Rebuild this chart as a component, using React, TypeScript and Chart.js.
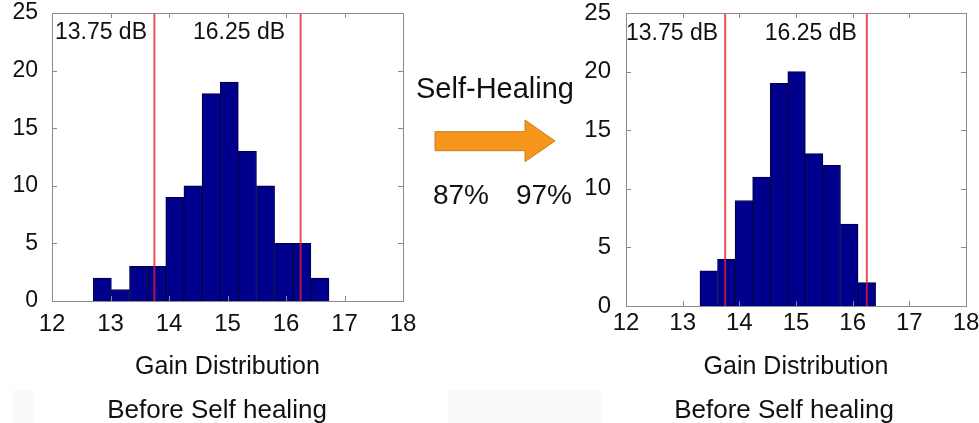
import { useEffect, useRef } from "react";
import { Chart, registerables } from "chart.js";

Chart.register(...registerables);

const FONT = '"Liberation Sans", Arial, Helvetica, sans-serif';

// Gain histogram before self-healing: bin centres (dB) and unit counts
const beforeBins = [12.86, 13.17, 13.48, 13.79, 14.1, 14.41, 14.72, 15.03, 15.34, 15.65, 15.96, 16.27, 16.58];
const beforeCounts = [2, 1, 3, 3, 9, 10, 18, 19, 13, 10, 5, 5, 2];

// Gain histogram after self-healing
const afterBins = [13.46, 13.77, 14.08, 14.39, 14.7, 15.01, 15.32, 15.63, 15.94, 16.25];
const afterCounts = [3, 4, 9, 11, 19, 20, 13, 12, 7, 2];

// Gain specification window (dB)
const specLimits = [13.75, 16.25];
const specLabels = ["13.75 dB", "16.25 dB"];

// Axis ticks
const xTicks = [12, 13, 14, 15, 16, 17, 18];
const yTicks = [0, 5, 10, 15, 20, 25];

// Yield inside the window
const yieldBefore = "87%";
const yieldAfter = "97%";

type Layout = {
  yAxisWidth: number;
  xAxisHeight: number;
  padTop: number;
  padRight: number;
  xTickPad: number;
  yTickPad: number;
  yTickSize: number;
  labelAnchors: { x: number; y: number }[];
};

const X_MIN = xTicks[0];
const X_MAX = xTicks[xTicks.length - 1];
const Y_MIN = yTicks[0];
const Y_MAX = yTicks[yTicks.length - 1];

// Box frame, inward tick marks and the spec-limit captions
const framePlugin = {
  id: "frame",
  afterDatasetsDraw(chart: any, _args: any, opts: any) {
    const { ctx, chartArea: a, scales } = chart;
    const x = scales.x;
    const y = scales.y;
    ctx.save();
    ctx.strokeStyle = "#8a8a8a";
    ctx.lineWidth = 1;
    ctx.beginPath();
    for (const t of xTicks) {
      if (t === X_MIN || t === X_MAX) continue;
      const px = Math.round(x.getPixelForValue(t)) + 0.5;
      ctx.moveTo(px, a.bottom);
      ctx.lineTo(px, a.bottom - 5);
      ctx.moveTo(px, a.top);
      ctx.lineTo(px, a.top + 5);
    }
    for (const t of yTicks) {
      if (t === Y_MIN || t === Y_MAX) continue;
      const py = Math.round(y.getPixelForValue(t)) + 0.5;
      ctx.moveTo(a.left, py);
      ctx.lineTo(a.left + 5, py);
      ctx.moveTo(a.right, py);
      ctx.lineTo(a.right - 5, py);
    }
    ctx.stroke();
    ctx.strokeRect(
      Math.round(a.left) + 0.5,
      Math.round(a.top) + 0.5,
      Math.round(a.right - a.left),
      Math.round(a.bottom - a.top)
    );

    ctx.fillStyle = "#111";
    ctx.font = `23px ${FONT}`;
    ctx.textAlign = "left";
    ctx.textBaseline = "middle";
    (opts.anchors || []).forEach((p: { x: number; y: number }, i: number) => {
      ctx.fillText(specLabels[i], x.getPixelForValue(p.x), y.getPixelForValue(p.y));
    });
    ctx.restore();
  },
};

function buildConfig(bins: number[], counts: number[], L: Layout): any {
  const limitSets = specLimits.map((v) => ({
    type: "line",
    data: [
      { x: v, y: Y_MIN },
      { x: v, y: Y_MAX },
    ],
    borderColor: "rgba(226, 32, 44, 0.78)",
    borderWidth: 2,
    pointRadius: 0,
    fill: false,
    order: 0,
  }));

  return {
    type: "bar",
    data: {
      datasets: [
        {
          type: "bar",
          data: bins.map((b, i) => ({ x: b, y: counts[i] })),
          backgroundColor: "#00008c",
          borderColor: "#00003c",
          borderWidth: 1,
          barPercentage: 1,
          categoryPercentage: 1,
          order: 1,
        },
        ...limitSets,
      ],
    },
    options: {
      responsive: false,
      animation: false,
      devicePixelRatio: 1,
      layout: { padding: { left: 0, top: L.padTop, right: L.padRight, bottom: 0 } },
      plugins: {
        legend: { display: false },
        tooltip: { enabled: false },
        frame: { anchors: L.labelAnchors },
      },
      scales: {
        x: {
          type: "linear",
          min: X_MIN,
          max: X_MAX,
          offset: false,
          afterBuildTicks: (s: any) => {
            s.ticks = xTicks.map((v) => ({ value: v }));
          },
          afterFit: (s: any) => {
            s.height = L.xAxisHeight;
            s.paddingLeft = 0;
            s.paddingRight = 0;
          },
          grid: { display: false, drawTicks: false },
          border: { display: false },
          ticks: {
            color: "#111",
            padding: L.xTickPad,
            maxRotation: 0,
            autoSkip: false,
            font: { family: FONT, size: 24, lineHeight: 1 },
          },
          title: {
            display: true,
            text: "Gain Distribution",
            color: "#111",
            font: { family: FONT, size: 25, lineHeight: 1.2 },
            padding: { top: 0, bottom: 41 },
          },
        },
        y: {
          min: Y_MIN,
          max: Y_MAX,
          afterBuildTicks: (s: any) => {
            s.ticks = yTicks.map((v) => ({ value: v }));
          },
          afterFit: (s: any) => {
            s.width = L.yAxisWidth;
            s.paddingTop = 0;
            s.paddingBottom = 0;
          },
          grid: { display: false, drawTicks: false },
          border: { display: false },
          ticks: {
            color: "#111",
            padding: L.yTickPad,
            font: { family: FONT, size: L.yTickSize, lineHeight: 1 },
          },
        },
      },
    },
    plugins: [framePlugin],
  };
}

function Histogram(props: {
  bins: number[];
  counts: number[];
  layout: Layout;
  left: number;
  width: number;
}) {
  const ref = useRef<HTMLCanvasElement | null>(null);
  useEffect(() => {
    if (!ref.current) return;
    const chart = new Chart(ref.current, buildConfig(props.bins, props.counts, props.layout));
    return () => chart.destroy();
  }, []);
  return (
    <canvas
      ref={ref}
      width={props.width}
      height={423}
      style={{ position: "absolute", left: props.left, top: 0, width: props.width, height: 423 }}
    />
  );
}

const leftLayout: Layout = {
  yAxisWidth: 52,
  xAxisHeight: 122,
  padTop: 13,
  padRight: 37,
  xTickPad: 11,
  yTickPad: 14,
  yTickSize: 23,
  labelAnchors: [
    { x: 12.05, y: 23.26 },
    { x: 14.41, y: 23.26 },
  ],
};

const rightLayout: Layout = {
  yAxisWidth: 66,
  xAxisHeight: 117,
  padTop: 13,
  padRight: 34,
  xTickPad: 5,
  yTickPad: 15,
  yTickSize: 24,
  labelAnchors: [
    { x: 12.0, y: 23.27 },
    { x: 14.45, y: 23.27 },
  ],
};

const textStyle = {
  position: "absolute" as const,
  fontFamily: FONT,
  color: "#111",
  whiteSpace: "nowrap" as const,
  lineHeight: 1,
};

export default function App() {
  return (
    <div
      style={{
        position: "fixed",
        left: 0,
        top: 0,
        width: 979,
        height: 423,
        overflow: "hidden",
        background: "#fff",
      }}
    >
      <div style={{ position: "absolute", left: 12, top: 390, width: 21, height: 33, background: "#fafafa" }} />
      <div style={{ position: "absolute", left: 448, top: 390, width: 155, height: 33, background: "#fafafa" }} />

      <Histogram bins={beforeBins} counts={beforeCounts} layout={leftLayout} left={0} width={440} />
      <Histogram bins={afterBins} counts={afterCounts} layout={rightLayout} left={560} width={440} />

      <div style={{ ...textStyle, left: 416, top: 74, fontSize: 29 }}>Self-Healing</div>
      <svg
        style={{ position: "absolute", left: 430, top: 115 }}
        width={130}
        height={52}
        viewBox="0 0 130 52"
      >
        <polygon
          points="5,16.7 95,16.7 95,5 125,26 95,46.7 95,35.7 5,35.7"
          fill="#f7961c"
          stroke="#c97c22"
          strokeWidth={1}
        />
      </svg>
      <div style={{ ...textStyle, left: 411, width: 100, textAlign: "center", top: 181, fontSize: 28 }}>
        {yieldBefore}
      </div>
      <div style={{ ...textStyle, left: 494, width: 100, textAlign: "center", top: 181, fontSize: 28 }}>
        {yieldAfter}
      </div>

      <div style={{ ...textStyle, left: 17, width: 400, textAlign: "center", top: 396, fontSize: 26 }}>
        Before Self healing
      </div>
      <div style={{ ...textStyle, left: 584, width: 400, textAlign: "center", top: 396, fontSize: 26 }}>
        Before Self healing
      </div>
    </div>
  );
}
